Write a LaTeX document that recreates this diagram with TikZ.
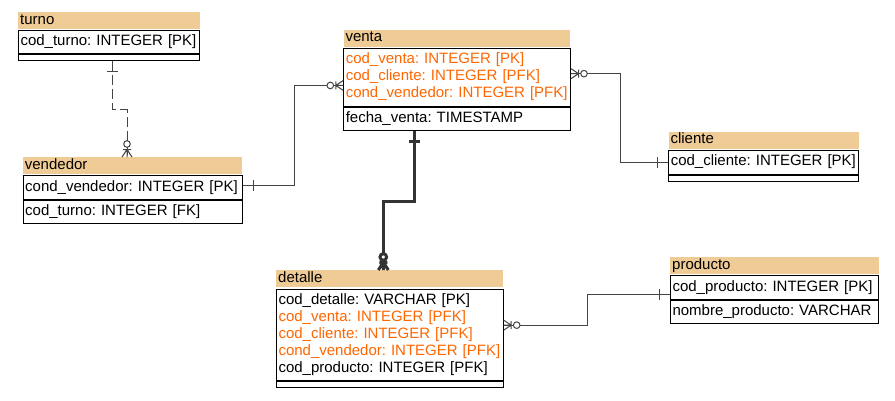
\documentclass[tikz,border=0pt]{standalone}
\usepackage{fontspec}
\setmainfont{Liberation Sans}
\frenchspacing
\definecolor{hdrtan}{RGB}{239,203,150}
\definecolor{fkorange}{RGB}{255,102,0}
\definecolor{relgray}{RGB}{68,68,68}
\definecolor{reldark}{RGB}{51,51,51}
\newcommand{\row}[1]{\mbox{#1}}
\newcommand{\fk}[1]{\mbox{\textcolor{fkorange}{#1}}}

\begin{document}
\begin{tikzpicture}[x=1pt, y=-1pt,
		font=\fontsize{15}{17}\selectfont,
		hdr/.style={anchor=north west, fill=hdrtan, text width=#1, align=left, inner xsep=2pt, inner ysep=0pt, minimum height=16.5pt, execute at begin node=\strut},
		keys/.style={anchor=north west, draw, line width=1pt, text width=#1, align=left, inner xsep=2pt, inner ysep=3.25pt, execute at begin node=\strut, execute at end node=\strut},
		blank/.style={anchor=north west, draw, line width=1pt, minimum width=#1, minimum height=6pt, inner sep=0pt},
		rel/.style={color=relgray, line width=1pt},
		relthick/.style={color=reldark, line width=3pt},
		onemark/.pic={\draw (10.5,-5.5) -- (10.5,5.5);},
		manymark/.pic={
			\draw (0,-5) -- (7.5,0) -- (0,5) (0,0) -- (7.5,0) (7.5,-4) -- (7.5,4);
			\draw[fill=white] (13,0) circle[radius=3.3];}]
		\useasboundingbox[fill=white] (0,0) rectangle (895,400);
		
		% tables
		\node[hdr=177.3pt] (turno) at (18,12) {turno};
		\node[keys=177.3pt] (turno-k) at ([yshift=-0.5pt]turno.south west) {\row{cod\_turno: INTEGER [PK]}};
		\node[blank=181.3pt] (turno-a) at (turno-k.south west) {};
		
		\node[hdr=215pt] (vendedor) at (22.7,157) {vendedor};
		\node[keys=215pt] (vendedor-k) at ([yshift=-1pt]vendedor.south west) {\row{cond\_vendedor: INTEGER [PK]}};
		\node[keys=215pt] (vendedor-a) at (vendedor-k.south west) {\row{cod\_turno: INTEGER [FK]}};
		
		\node[hdr=222.7pt] (venta) at (343.3,29.3) {venta};
		\node[keys=222.7pt] (venta-k) at ([yshift=-1.5pt]venta.south west) {\fk{cod\_venta: INTEGER [PK]}\\ \fk{cod\_cliente: INTEGER [PFK]}\\ \fk{cond\_vendedor: INTEGER [PFK]}};
		\node[keys=222.7pt] (venta-a) at (venta-k.south west) {\row{fecha\_venta: TIMESTAMP}};
		
		\node[hdr=186pt] (cliente) at (668.3,131.7) {cliente};
		\node[keys=186pt] (cliente-k) at ([yshift=-1pt]cliente.south west) {\row{cod\_cliente: INTEGER [PK]}};
		\node[blank=190pt] (cliente-a) at (cliente-k.south west) {};
		
		\node[hdr=222.7pt] (detalle) at (276,270) {detalle};
		\node[keys=222.7pt] (detalle-k) at ([yshift=-1.5pt]detalle.south west) {\row{cod\_detalle: VARCHAR [PK]}\\ \fk{cod\_venta: INTEGER [PFK]}\\ \fk{cod\_cliente: INTEGER [PFK]}\\ \fk{cond\_vendedor: INTEGER [PFK]}\\ \row{cod\_producto: INTEGER [PFK]}};
		\node[blank=226.7pt] (detalle-a) at (detalle-k.south west) {};
		
		\node[hdr=204.3pt] (producto) at (670,257) {producto};
		\node[keys=204.3pt] (producto-k) at ([yshift=-1pt]producto.south west) {\row{cod\_producto: INTEGER [PK]}};
		\node[keys=204.3pt] (producto-a) at (producto-k.south west) {\row{nombre\_producto: VARCHAR}};
		
		% relations
		\draw[rel, dash pattern=on 10pt off 4pt] ([xshift=94.7pt]turno-a.south west) coordinate (t1) -- ++(0,48.3) -| ([xshift=104.3pt]vendedor.north west) coordinate (v1);
		\pic[rel, rotate=-90] at (t1) {onemark};
		\pic[rel, rotate=90] at (v1) {manymark};
		
		\draw[rel] ([yshift=2pt]vendedor-k.east) coordinate (v2) -- ++(51.6,0) |- ([yshift=-8pt]venta-k.west) coordinate (s1);
		\pic[rel] at (v2) {onemark};
		\pic[rel, rotate=180] at (s1) {manymark};
		
		\draw[rel] ([yshift=3.8pt]venta-k.east) coordinate (s2) -- ++(49.3,0) |- (cliente-k.west) coordinate (c1);
		\pic[rel] at (s2) {manymark};
		\pic[rel, rotate=180] at (c1) {onemark};
		
		\draw[relthick] ([xshift=70.7pt]venta-a.south west) coordinate (s3) -- ++(0,70.7) -| ([xshift=107.3pt]detalle.north west) coordinate (d1);
		\pic[relthick, rotate=-90] at (s3) {onemark};
		\pic[relthick, rotate=90] at (d1) {manymark};
		
		\draw[rel] ([yshift=10pt]detalle-k.east) coordinate (d2) -- ++(84,0) |- ([yshift=-6.5pt]producto-k.west) coordinate (p1);
		\pic[rel] at (d2) {manymark};
		\pic[rel, rotate=180] at (p1) {onemark};
	\end{tikzpicture}
\end{document}
